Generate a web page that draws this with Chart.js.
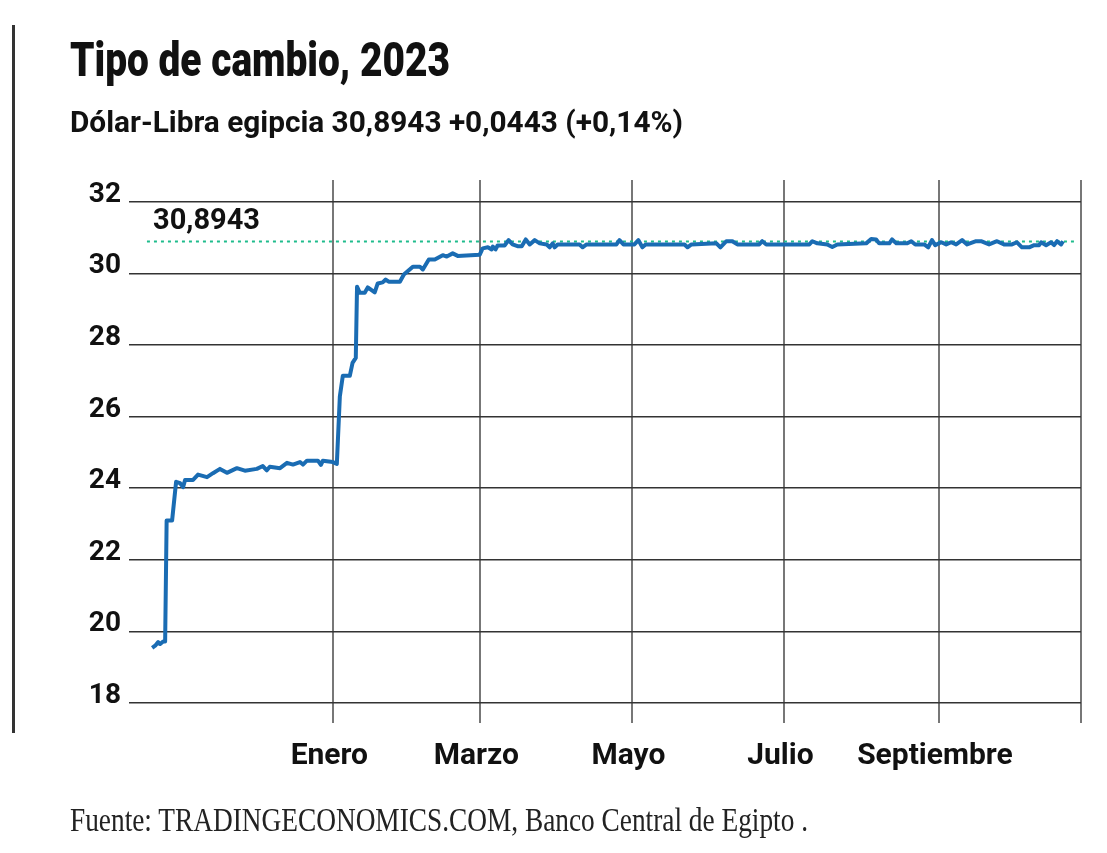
<!DOCTYPE html>
<html lang="es">
<head>
<meta charset="utf-8">
<title>Tipo de cambio, 2023</title>
<script src="https://cdn.jsdelivr.net/npm/chart.js@4.4.0/dist/chart.umd.min.js"></script>
<style>
    body { margin: 0; background: #fff; }
    .wrap { position: relative; width: 1107px; height: 853px; overflow: hidden; }
    #rateChart { position: absolute; left: 0; top: 0; }
    .bar { position: absolute; left: 12px; top: 25px; width: 3px; height: 708px; background: #333; }
    .txt { position: absolute; left: 70px; white-space: nowrap; transform-origin: left top; color: #111; }
    .title { top: 31px; font: 900 49px 'Roboto', sans-serif; }
    .subtitle { top: 104px; font: 700 30px 'Roboto', sans-serif; }
    .source { top: 802px; font: 400 33px 'Liberation Serif', serif; color: #222; }
</style>
</head>
<body>
<div class="wrap">
    <div class="bar"></div>
    <canvas id="rateChart" width="1107" height="853"></canvas>
    <div class="txt title" data-w="380">Tipo de cambio, 2023</div>
    <div class="txt subtitle" data-w="613">Dólar-Libra egipcia 30,8943 +0,0443 (+0,14%)</div>
    <div class="txt source" data-w="738">Fuente: TRADINGECONOMICS.COM, Banco Central de Egipto .</div>
</div>
<script>
// Days counted from 1 January 2023 (negative = late 2022)
const days = [
    -72.7, -71.5, -70.3, -69.5, -68.3, -67.5, -66.9, -64.7, -63.1, -61.5,
    -60.3, -59.5, -56.3, -54.3, -50.7, -48.3, -45.5, -42.7, -38.7, -35.5,
    -30.7, -28.3, -26.7, -25.5, -21.4, -18.6, -16.2, -13.4, -12.2, -10.6,
    -6.2, -5.0, -4.2, -0.2, 1.4, 2.6, 3.8, 6.6, 7.7, 9.0,
    9.5, 10.6, 12.6, 13.8, 16.6, 17.8, 19.8, 21.0, 22.2, 26.7,
    28.3, 31.9, 34.7, 35.9, 38.3, 40.7, 43.9, 45.5, 47.9, 49.9,
    58.7, 59.9, 62.0, 63.5, 64.0, 65.1, 65.9, 68.7, 70.3, 71.9,
    73.9, 75.6, 77.2, 78.8, 80.8, 82.8, 85.6, 86.8, 88.0, 88.8,
    90.0, 98.8, 100.0, 101.6, 113.6, 114.8, 116.4, 120.8, 122.4, 124.0,
    125.3, 140.9, 142.1, 143.7, 153.7, 155.3, 157.7, 160.1, 162.1, 170.9,
    172.1, 173.7, 191.0, 192.2, 194.2, 198.2, 200.2, 202.2, 213.8, 215.8,
    217.8, 219.0, 223.1, 224.2, 225.9, 230.3, 231.9, 233.5, 237.1, 238.7,
    240.2, 241.5, 243.9, 245.9, 247.9, 249.9, 252.3, 254.3, 257.9, 259.9,
    263.1, 266.3, 269.1, 272.3, 274.3, 276.3, 279.2, 281.2, 283.2, 284.0,
    286.0, 288.0, 289.2, 290.4, 292.0, 292.8
];
const rates = [
    19.54, 19.60, 19.70, 19.65, 19.72, 19.72, 23.10, 23.10, 24.18, 24.14,
    24.03, 24.23, 24.23, 24.38, 24.31, 24.42, 24.54, 24.43, 24.56, 24.49,
    24.54, 24.62, 24.50, 24.60, 24.56, 24.71, 24.66, 24.73, 24.66, 24.77,
    24.77, 24.65, 24.77, 24.73, 24.68, 26.56, 27.14, 27.14, 27.50, 27.64,
    29.63, 29.46, 29.46, 29.61, 29.47, 29.72, 29.75, 29.83, 29.77, 29.77,
    29.97, 30.19, 30.19, 30.11, 30.39, 30.39, 30.51, 30.47, 30.56, 30.49,
    30.52, 30.70, 30.73, 30.67, 30.75, 30.67, 30.78, 30.78, 30.93, 30.81,
    30.76, 30.76, 30.95, 30.81, 30.93, 30.84, 30.81, 30.73, 30.84, 30.73,
    30.81, 30.81, 30.73, 30.81, 30.81, 30.93, 30.81, 30.81, 30.93, 30.73,
    30.81, 30.81, 30.73, 30.81, 30.84, 30.73, 30.90, 30.90, 30.81, 30.81,
    30.90, 30.81, 30.81, 30.90, 30.84, 30.81, 30.74, 30.81, 30.84, 30.96,
    30.95, 30.84, 30.84, 30.95, 30.84, 30.84, 30.90, 30.81, 30.81, 30.73,
    30.93, 30.79, 30.87, 30.81, 30.87, 30.81, 30.93, 30.81, 30.90, 30.90,
    30.81, 30.90, 30.81, 30.81, 30.87, 30.73, 30.73, 30.79, 30.79, 30.87,
    30.79, 30.87, 30.79, 30.90, 30.81, 30.90
];
const latest = 30.8943;
const latestLabel = '30,8943';
const refLineDays = [-74.8, 298.3];

// x axis: first day of each labelled month, plus the right edge
const monthTicks = [0, 59, 120, 181, 243, 300];
const monthLabels = ['Enero', 'Marzo', 'Mayo', 'Julio', 'Septiembre', ''];
const yTicks = [18, 20, 22, 24, 26, 28, 30, 32];

const colors = {
    line: '#1a6cb3',
    ref: '#1fbc8c',
    gridH: '#333',
    gridV: '#777',
    text: '#111'
};

// stretch the html texts to the measured widths
document.querySelectorAll('.txt').forEach(el => {
    const w = el.getBoundingClientRect().width;
    el.style.transform = `scaleX(${el.dataset.w / w})`;
});

// label for the latest value above the dotted line
const latestLabelPlugin = {
    id: 'latestLabel',
    afterDatasetsDraw(chart) {
        const { ctx, chartArea, scales } = chart;
        const y = scales.y.getPixelForValue(latest);
        ctx.save();
        ctx.font = "700 29px 'Roboto', sans-serif";
        ctx.fillStyle = colors.text;
        ctx.textBaseline = 'alphabetic';
        ctx.fillText(latestLabel, chartArea.left + 24, y - 12);
        ctx.restore();
    }
};

const ctx = document.getElementById('rateChart').getContext('2d');
new Chart(ctx, {
    type: 'line',
    data: {
        datasets: [
            {
                label: 'Dólar-Libra egipcia',
                data: days.map((d, i) => ({ x: d, y: rates[i] })),
                borderColor: colors.line,
                borderWidth: 4,
                borderJoinStyle: 'round',
                pointRadius: 0,
                tension: 0,
                order: 1
            },
            {
                label: 'Último',
                data: refLineDays.map(d => ({ x: d, y: latest })),
                borderColor: colors.ref,
                borderWidth: 2,
                borderDash: [3, 4],
                pointRadius: 0,
                order: 2
            }
        ]
    },
    options: {
        responsive: false,
        animation: false,
        layout: { padding: { top: 180, right: 26, bottom: 0, left: 0 } },
        scales: {
            x: {
                type: 'linear',
                min: -82,
                max: 300,
                afterBuildTicks: axis => { axis.ticks = monthTicks.map(v => ({ value: v })); },
                afterFit: axis => { axis.height = 150; },
                grid: {
                    color: colors.gridV,
                    lineWidth: 2,
                    tickLength: 20
                },
                border: { display: false },
                ticks: {
                    autoSkip: false,
                    maxRotation: 0,
                    padding: 15,
                    labelOffset: -4,
                    color: colors.text,
                    font: { family: 'Roboto', weight: 'bold', size: 30 },
                    callback: value => monthLabels[monthTicks.indexOf(value)]
                }
            },
            y: {
                min: 18,
                max: 32.61,
                afterBuildTicks: axis => { axis.ticks = yTicks.map(v => ({ value: v })); },
                afterFit: axis => { axis.width = 129; },
                grid: {
                    color: colors.gridH,
                    lineWidth: 1.5,
                    drawTicks: false
                },
                border: { display: false },
                ticks: {
                    padding: 8,
                    labelOffset: -7,
                    color: colors.text,
                    font: { family: 'Roboto', weight: 'bold', size: 28 }
                }
            }
        },
        plugins: {
            legend: { display: false },
            tooltip: { enabled: false }
        }
    },
    plugins: [latestLabelPlugin]
});
</script>
</body>
</html>
